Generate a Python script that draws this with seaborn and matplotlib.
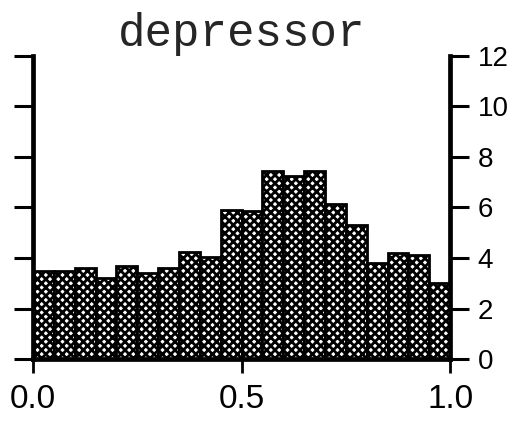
import matplotlib
matplotlib.use("Agg")
import matplotlib.pyplot as plt
import seaborn as sns
import numpy as np
import pandas as pd

bin_centers = [0.025, 0.075, 0.125, 0.175, 0.225, 0.275, 0.325, 0.375, 0.425, 0.475,
               0.525, 0.575, 0.625, 0.675, 0.725, 0.775, 0.825, 0.875, 0.925, 0.975]
heights = [3.5, 3.5, 3.6, 3.2, 3.7, 3.4, 3.6, 4.25, 4.05, 5.9,
           5.85, 7.45, 7.25, 7.45, 6.15, 5.3, 3.8, 4.2, 4.1, 3.0]
x_ticks = [0.0, 0.5, 1.0]
x_ticklabels = ["0.0", "0.5", "1.0"]
y_ticks = [0, 2, 4, 6, 8, 10, 12]
title = "depressor"

df = pd.DataFrame({"x": bin_centers, "w": heights})

sns.set_style("white")
plt.rcParams["font.family"] = ["Liberation Sans", "DejaVu Sans"]
plt.rcParams["hatch.linewidth"] = 2.0

fig = plt.figure(figsize=(5.32, 4.24), dpi=100)
ax = fig.add_axes([0.062, 0.153, 0.784, 0.716])

sns.histplot(data=df, x="x", weights="w", bins=20, binrange=(0, 1),
             stat="count", element="bars", fill=True, ax=ax,
             color="white", edgecolor="black", linewidth=2.0, alpha=1)
for p in ax.patches:
    p.set_hatch("xxxx")
    p.set_facecolor("white")
    p.set_edgecolor("black")

ax.set_xlim(0, 1)
ax.set_ylim(0, 12)
ax.set_xticks(x_ticks)
ax.set_xticklabels(x_ticklabels)
ax.set_yticks(y_ticks)
ax.set_xlabel("")
ax.set_ylabel("")

for s in ["left", "right"]:
    ax.spines[s].set_linewidth(3.4)
    ax.spines[s].set_color("black")
ax.spines["bottom"].set_linewidth(3.4)
ax.spines["bottom"].set_color("black")
ax.spines["top"].set_visible(False)

ax.tick_params(axis="y", which="both", left=True, right=True,
               labelleft=False, labelright=True, direction="out",
               length=14, width=2.2, labelsize=20, pad=6, colors="black")
ax.tick_params(axis="x", which="both", bottom=True, direction="out",
               length=10, width=2.0, labelsize=24, pad=8, colors="black")

ax.set_title(title, fontsize=33, family=["Liberation Mono", "DejaVu Sans Mono"], pad=6)

fig.savefig("out.png", dpi=100)
